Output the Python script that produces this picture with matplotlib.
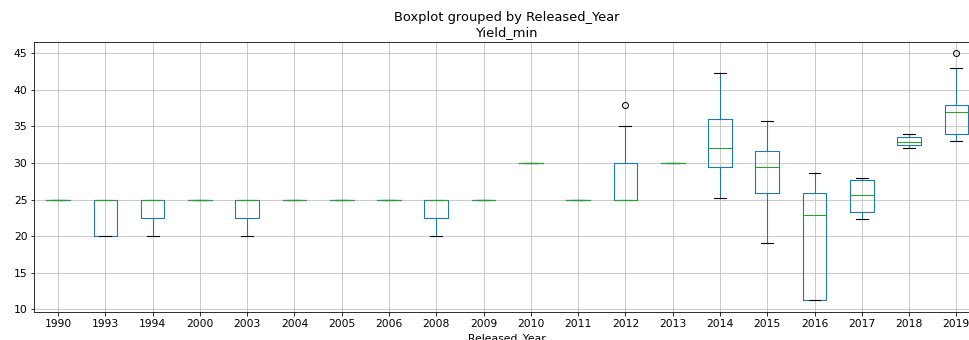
import matplotlib
matplotlib.use("Agg")
import matplotlib.pyplot as plt

years = ["1990", "1993", "1994", "2000", "2003", "2004", "2005", "2006", "2008", "2009",
         "2010", "2011", "2012", "2013", "2014", "2015", "2016", "2017", "2018", "2019"]
whislo = [25, 20, 20, 25, 20, 25, 25, 25, 20, 25, 30, 25, 25, 30, 25.2, 19.0, 11.25, 22.3, 32.0, 33.0]
q1     = [25, 20, 22.5, 25, 22.5, 25, 25, 25, 22.5, 25, 30, 25, 25, 30, 29.5, 25.9, 11.25, 23.3, 32.45, 34.0]
med    = [25, 25, 25, 25, 25, 25, 25, 25, 25, 25, 30, 25, 25, 30, 32.0, 29.5, 22.9, 25.65, 32.9, 37.0]
q3     = [25, 25, 25, 25, 25, 25, 25, 25, 25, 25, 30, 25, 30, 30, 36.05, 31.7, 25.9, 27.7, 33.5, 38.0]
whishi = [25, 25, 25, 25, 25, 25, 25, 25, 25, 25, 30, 25, 35, 30, 42.35, 35.8, 28.6, 28.0, 34.0, 43.0]
fliers = [[], [], [], [], [], [], [], [], [], [], [], [], [38], [], [], [], [], [], [], [45]]

stats = []
for i, y in enumerate(years):
    stats.append(dict(label=y, whislo=whislo[i], q1=q1[i], med=med[i], q3=q3[i],
                      whishi=whishi[i], fliers=fliers[i]))

plt.rcParams['font.family'] = ['DejaVu Sans']
plt.rcParams['font.size'] = 10.8
plt.rcParams['grid.color'] = '#c0c0c0'
fig = plt.figure(figsize=(969 / 72, 340 / 72), dpi=72)
ax = fig.add_axes([34.4 / 969, 1 - 311.7 / 340, 945.6 / 969, (311.7 - 41.7) / 340])

lw = 1.1
ax.bxp(stats,
       boxprops=dict(color='#1f77b4', linewidth=lw),
       whiskerprops=dict(color='#1f77b4', linewidth=lw),
       capprops=dict(color='k', linewidth=lw),
       medianprops=dict(color='#2ca02c', linewidth=lw),
       flierprops=dict(marker='o', markeredgecolor='k', markerfacecolor='none'))
ax.grid(True)
ax.set_axisbelow(True)
ax.set_xlim(0.5, 20.5)
ax.set_ylim(9.67, 46.59)
ax.tick_params(labelsize=10.8)
ax.set_title("Yield_min", fontsize=13)
ax.set_xlabel("Released_Year")
fig.suptitle("Boxplot grouped by Released_Year", x=507 / 969, y=1 - 11 / 340,
             va='top', fontsize=13)

fig.savefig("out.png", dpi=72)
